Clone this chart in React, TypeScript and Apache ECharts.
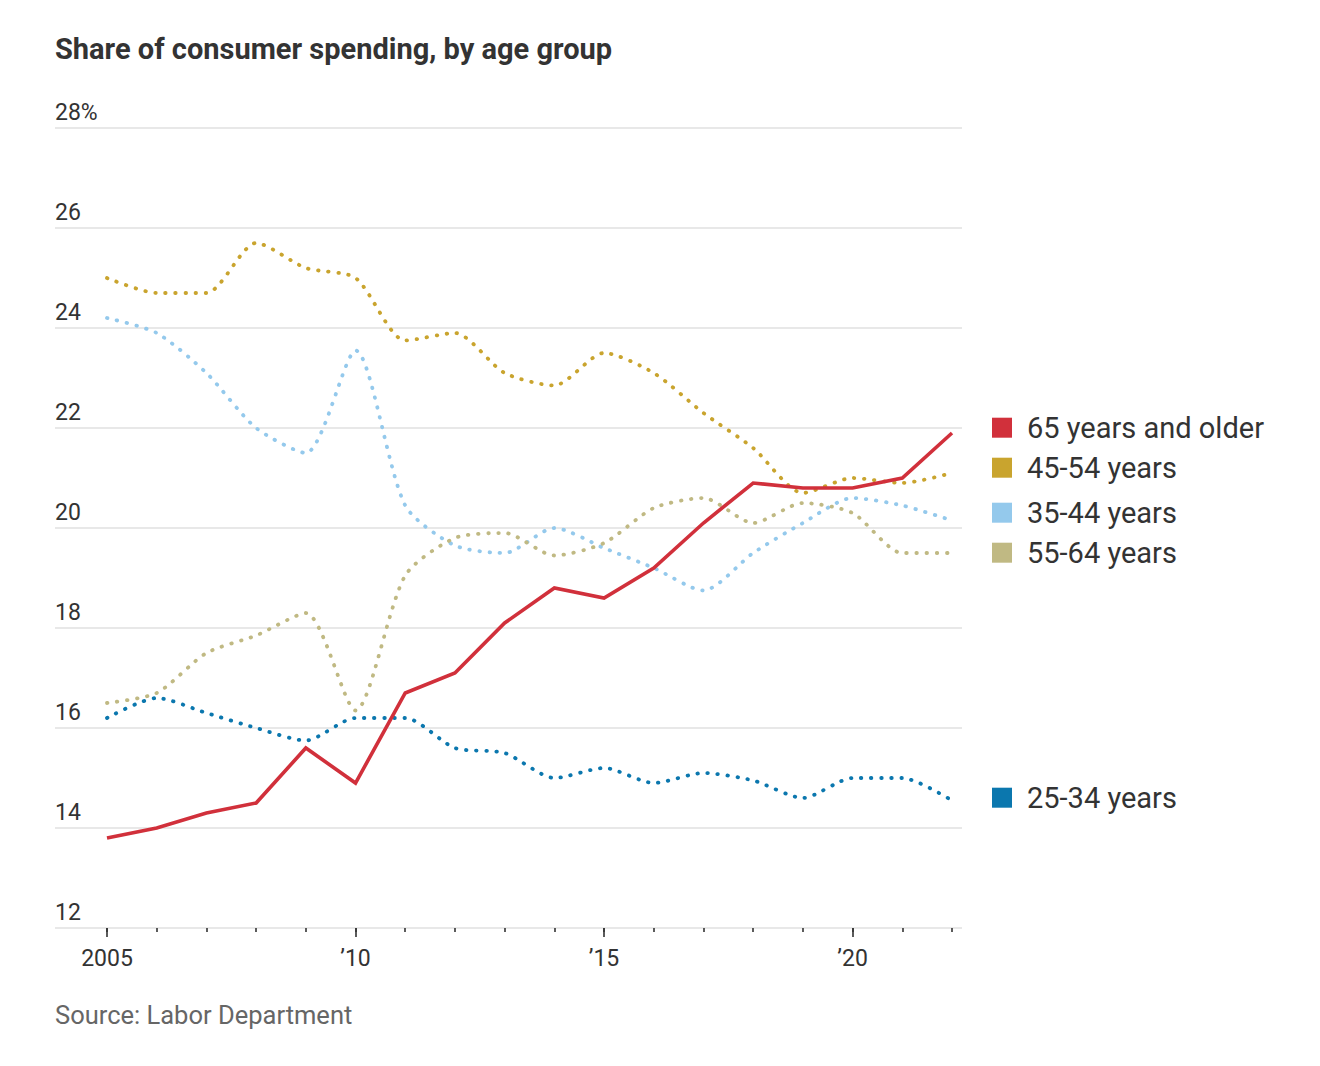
import React, { useEffect, useRef } from "react";
import * as echarts from "echarts";

const years = ["2005", "2006", "2007", "2008", "2009", "2010", "2011", "2012", "2013", "2014", "2015", "2016", "2017", "2018", "2019", "2020", "2021", "2022"];
const majorTickLabels: Record<string, string> = { "2005": "2005", "2010": "\u201910", "2015": "\u201915", "2020": "\u201920" };

const age65plus = [13.8, 14.0, 14.3, 14.5, 15.6, 14.9, 16.7, 17.1, 18.1, 18.8, 18.6, 19.2, 20.1, 20.9, 20.8, 20.8, 21.0, 21.9];
const age45to54 = [25.0, 24.7, 24.7, 25.7, 25.2, 25.0, 23.75, 23.9, 23.1, 22.85, 23.5, 23.1, 22.3, 21.6, 20.7, 21.0, 20.9, 21.1];
const age35to44 = [24.2, 23.9, 23.1, 22.0, 21.5, 23.55, 20.45, 19.65, 19.5, 20.0, 19.6, 19.2, 18.75, 19.5, 20.1, 20.6, 20.45, 20.15];
const age55to64 = [16.5, 16.7, 17.5, 17.85, 18.3, 16.35, 19.05, 19.8, 19.9, 19.45, 19.7, 20.4, 20.6, 20.1, 20.5, 20.3, 19.5, 19.5];
const age25to34 = [16.2, 16.6, 16.3, 16.0, 15.75, 16.2, 16.2, 15.6, 15.5, 15.0, 15.2, 14.9, 15.1, 14.95, 14.6, 15.0, 15.0, 14.55];

const seriesNames = ["65 years and older", "45-54 years", "35-44 years", "55-64 years", "25-34 years"];
const seriesColors = ["#d1303b", "#c9a42e", "#94c9ec", "#c0b983", "#0b77ae"];
const seriesValues = [age65plus, age45to54, age35to44, age55to64, age25to34];
const legendCenters = [427.7, 467.7, 512.7, 552.7, 797.7];

const yTicks = { min: 12, max: 28, interval: 2 };
const FONT = "Roboto, 'Noto Sans', sans-serif";

export default function App() {
  const ref = useRef<HTMLDivElement>(null);
  useEffect(() => {
    if (!ref.current) return;
    const chart = echarts.init(ref.current, null, { renderer: "svg" });
    const isMajor = (i: number) => Object.prototype.hasOwnProperty.call(majorTickLabels, years[i]);
    const top = 128;
    const bottom = 138;

    const series: any[] = [];
    // dotted first, solid red on top
    [1, 2, 3, 4, 0].forEach((k) => {
      const solid = k === 0;
      series.push({
        name: seriesNames[k],
        type: "line",
        xAxisIndex: 1,
        yAxisIndex: 1,
        data: seriesValues[k],
        showSymbol: false,
        symbol: "none",
        smooth: solid ? false : 0.25,
        z: solid ? 5 : 3,
        lineStyle: solid
          ? { color: seriesColors[k], width: 3.6, type: "solid", join: "miter" }
          : { color: seriesColors[k], width: 3.8, type: [0.5, 9.6], cap: "round" },
        itemStyle: { color: seriesColors[k] },
      });
    });

    const graphic: any[] = [
      {
        type: "text",
        left: 55,
        top: 34,
        style: {
          text: "Share of consumer spending, by age group",
          font: `700 29px ${FONT}`,
          fill: "#333333",
        },
      },
      {
        type: "text",
        left: 55,
        top: 1002,
        style: {
          text: "Source: Labor Department",
          font: `400 25.5px ${FONT}`,
          fill: "#666666",
        },
      },
    ];
    seriesNames.forEach((name, k) => {
      graphic.push({
        type: "rect",
        shape: { x: 992, y: legendCenters[k] - 10, width: 20, height: 20 },
        style: { fill: seriesColors[k] },
      });
      graphic.push({
        type: "text",
        x: 1027,
        y: legendCenters[k],
        style: {
          text: name,
          font: `400 29px ${FONT}`,
          fill: "#333333",
          verticalAlign: "middle",
          align: "left",
        },
      });
    });

    chart.setOption({
      animation: false,
      backgroundColor: "#ffffff",
      textStyle: { fontFamily: FONT },
      grid: [
        { left: 55, right: 358, top, bottom },
        { left: 107, right: 368, top, bottom },
      ],
      xAxis: [
        { gridIndex: 0, type: "value", min: 0, max: 1, show: false },
        {
          gridIndex: 1,
          type: "category",
          data: years,
          boundaryGap: false,
          position: "bottom",
          axisLine: { show: false },
          axisTick: { show: true, interval: 0, length: 4, lineStyle: { color: "#333", width: 1.6 } },
          axisLabel: { show: false },
          splitLine: { show: false },
        },
        {
          gridIndex: 1,
          type: "category",
          data: years,
          boundaryGap: false,
          position: "bottom",
          axisLine: { show: false },
          axisTick: { show: true, interval: (i: number) => isMajor(i), length: 9, lineStyle: { color: "#333", width: 1.6 } },
          axisLabel: {
            show: true,
            interval: (i: number) => isMajor(i),
            formatter: (v: string) => majorTickLabels[v] || "",
            color: "#333",
            fontSize: 23,
            fontFamily: FONT,
            margin: 19,
          },
          splitLine: { show: false },
        },
      ],
      yAxis: [
        {
          gridIndex: 0,
          type: "value",
          min: yTicks.min,
          max: yTicks.max,
          interval: yTicks.interval,
          axisLine: { show: false },
          axisTick: { show: false },
          splitLine: { show: true, lineStyle: { color: "#e0e0e0", width: 1.6 } },
          axisLabel: {
            inside: true,
            margin: 0,
            align: "left",
            verticalAlign: "bottom",
            padding: [0, 0, 4, 0],
            color: "#333",
            fontSize: 23,
            fontFamily: FONT,
            formatter: (v: number) => (v === yTicks.max ? `${v}%` : `${v}`),
          },
        },
        { gridIndex: 1, type: "value", min: yTicks.min, max: yTicks.max, show: false },
      ],
      series,
      graphic,
    });
    return () => chart.dispose();
  }, []);
  return <div ref={ref} style={{ position: "fixed", left: 0, top: 0, width: 1320, height: 1066 }} />;
}
